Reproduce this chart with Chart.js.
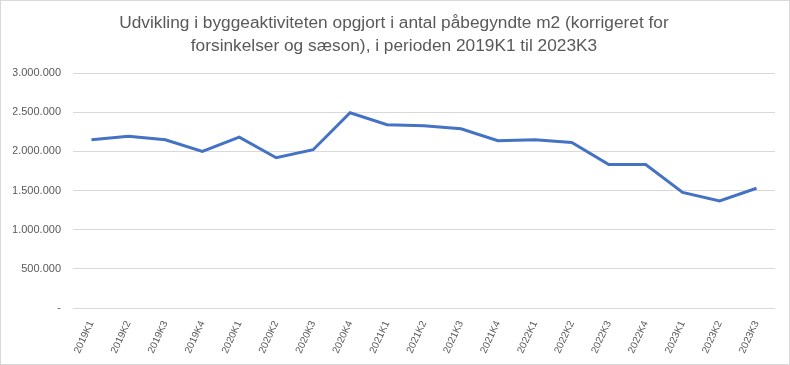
<!DOCTYPE html>
<html>
<head>
<meta charset="utf-8">
<script src="https://cdn.jsdelivr.net/npm/chart.js@4"></script>
<style>
    html, body { margin: 0; padding: 0; background: #fff; }
    #wrap { width: 790px; height: 365px; box-sizing: border-box; border: 1px solid #d9d9d9; position: relative; }
</style>
</head>
<body>
<div id="wrap"><canvas id="lineChart"></canvas></div>
<script>
    // data
    const labels = ['2019K1', '2019K2', '2019K3', '2019K4', '2020K1', '2020K2', '2020K3', '2020K4',
        '2021K1', '2021K2', '2021K3', '2021K4', '2022K1', '2022K2', '2022K3', '2022K4',
        '2023K1', '2023K2', '2023K3'];
    const kvm = [2148000, 2194000, 2148000, 2000000, 2181000, 1919000, 2021000, 2492000,
        2339000, 2326000, 2288000, 2136000, 2148000, 2114000, 1831000, 1831000,
        1475000, 1368000, 1529000];
    const titleLines = ['Udvikling i byggeaktiviteten opgjort i antal påbegyndte m2 (korrigeret for',
        'forsinkelser og sæson), i perioden 2019K1 til 2023K3'];

    const grey = '#595959';

    function fmt(v) {
        if (v === 0) return '-';
        return v.toString().replace(/\B(?=(\d{3})+(?!\d))/g, '.');
    }

    const ctx = document.getElementById('lineChart').getContext('2d');
    new Chart(ctx, {
        type: 'line',
        data: {
            labels: labels,
            datasets: [{
                data: kvm,
                borderColor: '#4472C4',
                borderWidth: 3,
                pointRadius: 0,
                fill: false,
                tension: 0
            }]
        },
        options: {
            responsive: true,
            maintainAspectRatio: false,
            animation: false,
            layout: { padding: { left: 12, right: 14, top: 2, bottom: 4 } },
            scales: {
                x: {
                    offset: true,
                    grid: { display: false },
                    border: { display: false },
                    ticks: {
                        color: grey,
                        font: { family: 'Liberation Sans', size: 10 },
                        minRotation: 65,
                        maxRotation: 65,
                        autoSkip: false,
                        padding: 3
                    },
                    afterFit: s => { s.height = 52; }
                },
                y: {
                    min: 0,
                    max: 3000000,
                    grid: { color: '#d9d9d9', drawTicks: false },
                    border: { display: false },
                    ticks: {
                        stepSize: 500000,
                        color: grey,
                        font: { family: 'Liberation Sans', size: 11 },
                        padding: 12,
                        callback: v => fmt(v)
                    },
                    afterFit: s => { s.width = 60; }
                }
            },
            plugins: {
                legend: { display: false },
                tooltip: { enabled: false },
                title: {
                    display: true,
                    text: titleLines,
                    color: grey,
                    font: { family: 'Liberation Sans', size: 17.3, weight: 'normal', lineHeight: 1.33 },
                    padding: { top: 9, bottom: 15 }
                }
            }
        }
    });
</script>
</body>
</html>
